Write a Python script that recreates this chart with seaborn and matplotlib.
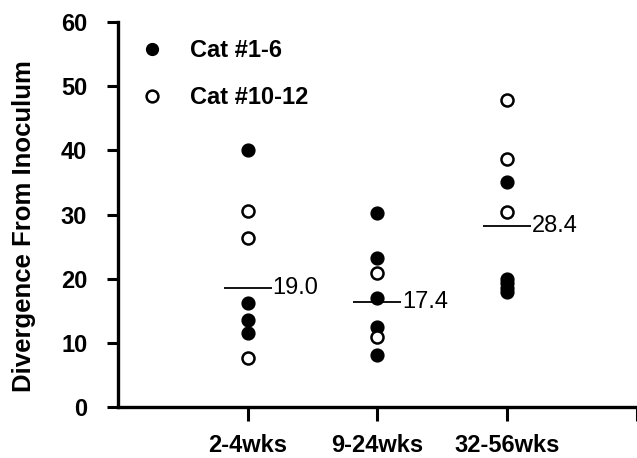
import matplotlib
matplotlib.use("Agg")
import matplotlib.pyplot as plt
import seaborn as sns
import pandas as pd
from matplotlib.lines import Line2D

categories = ["2-4wks", "9-24wks", "32-56wks"]
filled_vals = [
    [40.0, 16.2, 13.6, 11.5],
    [30.3, 23.3, 17.0, 12.5, 8.1],
    [35.0, 20.0, 19.3, 18.6, 18.0],
]
open_vals = [
    [30.5, 26.3, 7.7],
    [20.9, 10.9],
    [47.9, 38.7, 30.4],
]
mean_pos = [18.6, 16.4, 28.2]
mean_labels = ["19.0", "17.4", "28.4"]
legend_labels = ["Cat #1-6", "Cat #10-12"]

rows = []
for i, c in enumerate(categories):
    for v in filled_vals[i]:
        rows.append({"x": i + 1, "y": v, "grp": "filled"})
    for v in open_vals[i]:
        rows.append({"x": i + 1, "y": v, "grp": "open"})
df = pd.DataFrame(rows)

sns.set_style("ticks", {"axes.edgecolor": "black", "text.color": "black",
                        "xtick.color": "black", "ytick.color": "black",
                        "axes.labelcolor": "black"})
plt.rcParams['font.family'] = ['Liberation Sans', 'DejaVu Sans']

fig = plt.figure(figsize=(6.37, 4.58), dpi=100)
ax = fig.add_axes([0.185, 0.111, 0.815, 0.841])

sns.scatterplot(data=df[df.grp == "filled"], x="x", y="y", ax=ax, s=85,
                color="black", edgecolor="black", linewidth=1, legend=False, zorder=3)
sns.scatterplot(data=df[df.grp == "open"], x="x", y="y", ax=ax, s=75,
                facecolor="white", edgecolor="black", linewidth=1.8, legend=False, zorder=3)

for i, (m, lab) in enumerate(zip(mean_pos, mean_labels)):
    ax.hlines(m, i + 1 - 0.185, i + 1 + 0.185, color="black", linewidth=1.3, zorder=2)
    ax.text(i + 1 + 0.19, m, lab, fontsize=17, va="center", ha="left", color="black")

ax.set_xlim(0, 4)
ax.set_ylim(0, 60)
ax.set_yticks([0, 10, 20, 30, 40, 50, 60])
ax.set_xticks([1, 2, 3, 4])
ax.set_xticklabels(categories + [""])
ax.set_xlabel("")
ax.set_ylabel("Divergence From Inoculum", fontsize=18.5, fontweight="bold")
ax.yaxis.set_label_coords(-0.158, 0.47)

for lbl in ax.get_yticklabels() + ax.get_xticklabels():
    lbl.set_fontweight("bold")
    lbl.set_fontsize(17)

ax.tick_params(axis="y", direction="out", length=8, width=2.2, pad=14)
ax.tick_params(axis="x", direction="out", length=10, width=2.2, pad=9)
for side in ["left", "bottom"]:
    ax.spines[side].set_linewidth(2.4)
sns.despine(ax=ax)
ax.spines["bottom"].set_clip_on(False)

handles = [
    Line2D([], [], marker="o", linestyle="", markersize=8.5, markerfacecolor="black",
           markeredgecolor="black"),
    Line2D([], [], marker="o", linestyle="", markersize=8.5, markerfacecolor="white",
           markeredgecolor="black", markeredgewidth=1.8),
]
leg = ax.legend(handles, legend_labels, loc="upper left", bbox_to_anchor=(-0.02, 1.01),
                frameon=False, prop={"weight": "bold", "size": 17}, labelspacing=1.0,
                handletextpad=0.6)

fig.savefig("out.png", dpi=100)
